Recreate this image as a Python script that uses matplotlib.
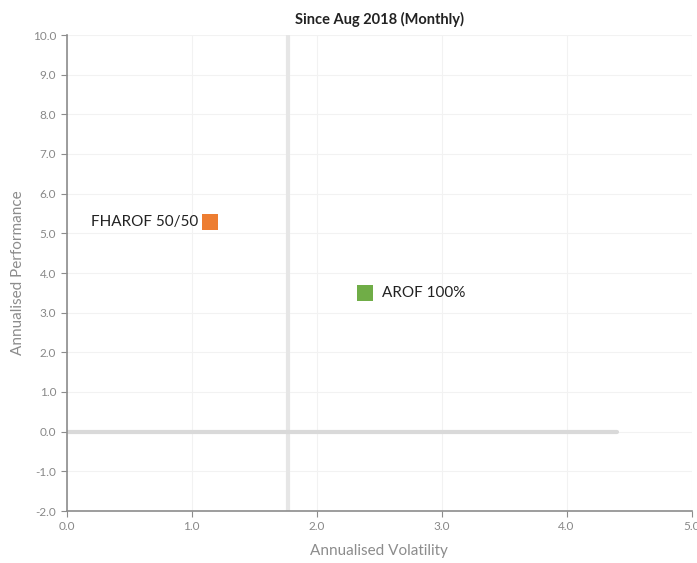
import matplotlib
matplotlib.use("Agg")
import matplotlib.pyplot as plt
import numpy as np

# data
names = ["FHAROF 50/50", "AROF 100%"]
volatility = [1.15, 2.39]
performance = [5.29, 3.50]
colors = ["#ED7D31", "#70AD47"]
label_side = ["left", "right"]

avg_vol = 1.77
zero_line_end = 4.4

plt.rcParams["font.family"] = ["Lato", "DejaVu Sans"]

fig = plt.figure(figsize=(6.97, 5.63), dpi=100)
ax = fig.add_axes([66.7 / 697, 1 - 511 / 563, (691.5 - 66.7) / 697, (511 - 35) / 563])

ax.set_xlim(0, 5)
ax.set_ylim(-2, 10)
ax.set_xticks(np.arange(0, 5.1, 1))
ax.set_yticks(np.arange(-2, 10.1, 1))
ax.set_xticklabels([f"{v:.1f}" for v in np.arange(0, 5.1, 1)])
ax.set_yticklabels([f"{v:.1f}" for v in np.arange(-2, 10.1, 1)])
ax.grid(True, color="#f2f2f2", linewidth=0.8)
ax.set_axisbelow(True)

for s in ["top", "right"]:
    ax.spines[s].set_visible(False)
for s in ["left", "bottom"]:
    ax.spines[s].set_color("#8c8c8c")
    ax.spines[s].set_linewidth(1.2)
ax.tick_params(colors="#8c8c8c", labelsize=8.5, length=4, labelcolor="#888888")

# reference lines
ax.axvline(avg_vol, color="#e6e6e6", linewidth=3, zorder=1)
ax.plot([0, zero_line_end], [0, 0], color="#d9d9d9", linewidth=3, solid_capstyle="round", zorder=1)

for n, x, y, c, side in zip(names, volatility, performance, colors, label_side):
    ax.scatter([x], [y], marker="s", s=135, color=c, zorder=3, linewidths=0)
    if side == "left":
        ax.annotate(n, (x, y), xytext=(-9, 0), textcoords="offset points",
                    ha="right", va="center", fontsize=11, color="#222222")
    else:
        ax.annotate(n, (x, y), xytext=(12, 0), textcoords="offset points",
                    ha="left", va="center", fontsize=11, color="#222222")

ax.set_title("Since Aug 2018 (Monthly)", fontsize=10.5, fontweight="bold", color="#222222", pad=8)
ax.set_xlabel("Annualised Volatility", fontsize=11, color="#8c8c8c", labelpad=8)
ax.set_ylabel("Annualised Performance", fontsize=11, color="#8c8c8c", labelpad=6)

fig.savefig("out.png", dpi=100)
